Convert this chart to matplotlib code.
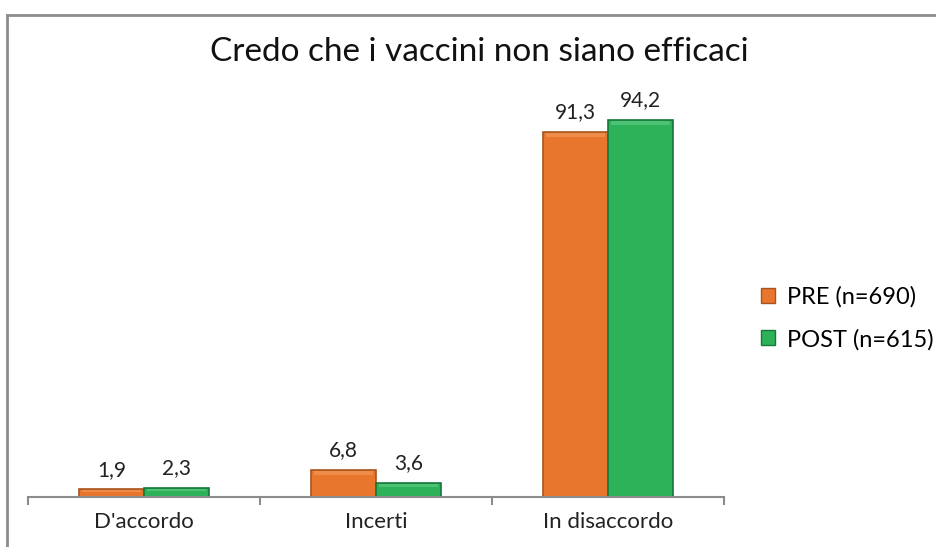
import numpy as np
import matplotlib
matplotlib.use('Agg')
import matplotlib.pyplot as plt
from matplotlib.lines import Line2D
from matplotlib.patches import Patch

plt.rcParams['font.family'] = ['Lato', 'DejaVu Sans']

categories = ["D'accordo", "Incerti", "In disaccordo"]
pre_vals = [1.9, 6.8, 91.3]
post_vals = [2.3, 3.6, 94.2]
series_names = ['PRE (n=690)', 'POST (n=615)']

c_pre, e_pre = '#E8762C', '#A9541C'
c_post, e_post = '#2DB25A', '#17763A'

fig = plt.figure(figsize=(9.37, 5.47), dpi=100)
ax = fig.add_axes([28 / 937, 1 - 497 / 547, (724 - 28) / 937, (497 - 97) / 547])

x = np.arange(len(categories))
w = 0.28
b1 = ax.bar(x - w / 2, pre_vals, w, color=c_pre, edgecolor=e_pre, linewidth=1.2)
b2 = ax.bar(x + w / 2, post_vals, w, color=c_post, edgecolor=e_post, linewidth=1.2)

# light highlight strip on top of each bar (bevel look)
for bars, hl in ((b1, '#F4A468'), (b2, '#6FD28F')):
    for r in bars:
        h = r.get_height()
        ax.bar(r.get_x() + r.get_width() / 2, min(0.9, h * 0.3), r.get_width() * 0.9,
               bottom=h - min(1.2, h * 0.4), color=hl, alpha=0.5, linewidth=0)

for bars, vals in ((b1, pre_vals), (b2, post_vals)):
    for r, v in zip(bars, vals):
        ax.annotate(('%.1f' % v).replace('.', ','), (r.get_x() + r.get_width() / 2, v),
                    xytext=(0, 7), textcoords='offset points', ha='center', va='bottom',
                    fontsize=15, color='#222222')

ax.set_xlim(-0.5, len(categories) - 0.5)
ax.set_ylim(0, 100)
for s in ('top', 'right', 'left'):
    ax.spines[s].set_visible(False)
ax.spines['bottom'].set_color('#8C8C8C')
ax.spines['bottom'].set_linewidth(1.5)
ax.set_yticks([])
ax.set_xticks(np.arange(len(categories) + 1) - 0.5, minor=True)
ax.set_xticks(x)
ax.set_xticklabels(categories, fontsize=16, color='#222222')
ax.tick_params(axis='x', which='major', length=0, pad=11)
ax.tick_params(axis='x', which='minor', length=6, width=1.5, color='#8C8C8C')

fig.text(479 / 937, 1 - 52 / 547, 'Credo che i vaccini non siano efficaci', fontsize=24,
         color='#111111', ha='center', va='center')

handles = [Patch(facecolor=c_pre, edgecolor=e_pre), Patch(facecolor=c_post, edgecolor=e_post)]
fig.legend(handles, series_names, loc='center left', bbox_to_anchor=(740 / 937, 1 - 318 / 547),
           frameon=False, fontsize=17, handlelength=0.6, handleheight=0.6,
           handletextpad=0.5, labelspacing=0.9)

# outer frame lines (top and left)
fig.add_artist(Line2D([7 / 937, 7 / 937], [0, 1 - 15 / 547], transform=fig.transFigure,
                      color='#8C8C8C', linewidth=2))
fig.add_artist(Line2D([7 / 937, 1], [1 - 15 / 547, 1 - 15 / 547], transform=fig.transFigure,
                      color='#8C8C8C', linewidth=2))

fig.savefig('out.png', dpi=100)
